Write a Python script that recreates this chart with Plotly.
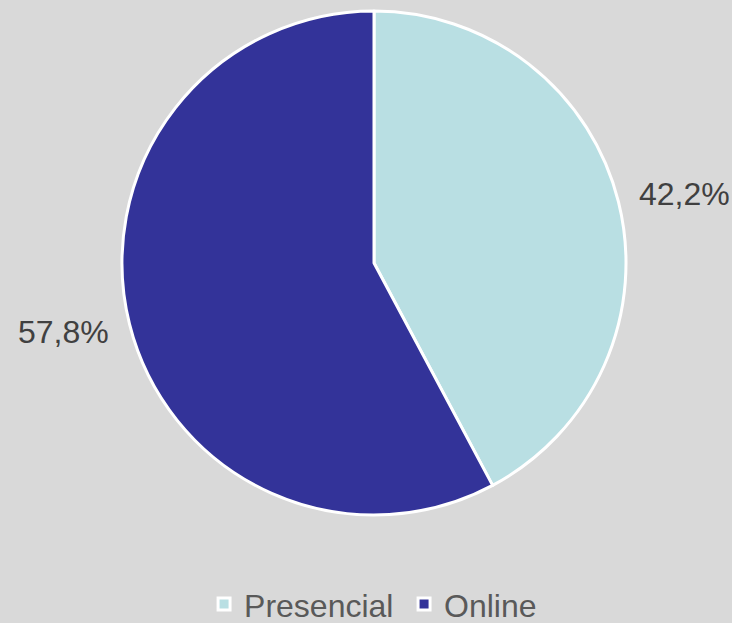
import math
import plotly.graph_objects as go

labels = ["Presencial", "Online"]
values = [42.2, 57.8]
colors = ["#b9dfe3", "#333399"]
text_labels = ["42,2%", "57,8%"]

W, H = 732, 623
cx, cy, R = 374, 263, 252

fig = go.Figure(go.Pie(
    labels=labels, values=values, sort=False, direction="clockwise", rotation=0,
    marker=dict(colors=colors, line=dict(color="white", width=3)),
    textinfo="none", hoverinfo="label+percent",
    domain=dict(x=[(cx - R) / W, (cx + R) / W], y=[(H - cy - R) / H, (H - cy + R) / H]),
))

# outside labels along the slice mid-angle
total = sum(values)
cum = 0
rx, ry = 320, 285
for v, t in zip(values, text_labels):
    mid = (cum + v / 2) / total * 2 * math.pi
    cum += v
    px = cx + rx * math.sin(mid)
    py = cy - ry * math.cos(mid)
    fig.add_annotation(x=px / W, y=1 - py / H, xref="paper", yref="paper",
                       text=t, showarrow=False, xanchor="center", yanchor="middle",
                       font=dict(family="Liberation Sans, Arial", size=32, color="#404040"))

fig.update_layout(
    width=W, height=H, margin=dict(l=0, r=0, t=0, b=0, autoexpand=False),
    paper_bgcolor="#d9d9d9", plot_bgcolor="#d9d9d9",
    showlegend=True,
    legend=dict(orientation="h", x=0.552, xanchor="center", y=0.03, yanchor="middle",
                font=dict(family="Liberation Sans, Arial", size=32, color="#595959"),
                itemwidth=30, entrywidth=155, entrywidthmode="pixels",
                tracegroupgap=0, bgcolor="rgba(0,0,0,0)"),
)
fig.write_html("out.html", config={"displayModeBar": False},
               post_script="document.body.style.margin='0';document.body.style.overflow='hidden';")
